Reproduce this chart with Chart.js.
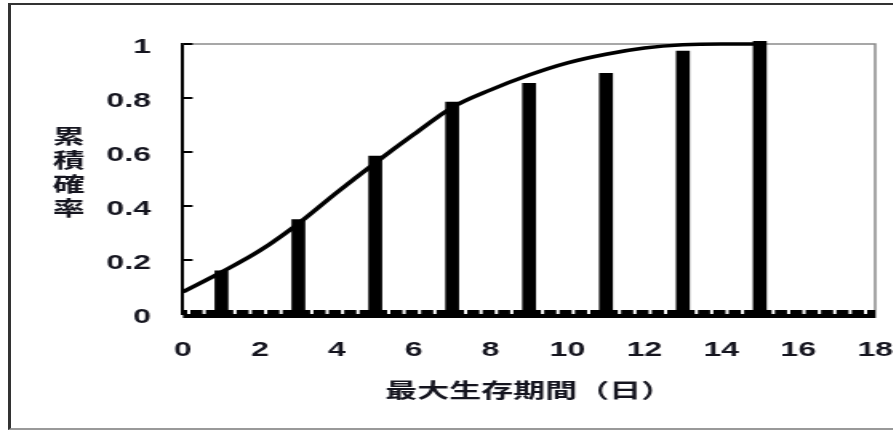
<!DOCTYPE html>
<html><head><meta charset="utf-8">
<script src="https://cdn.jsdelivr.net/npm/chart.js@4"></script>
<style>
html,body{margin:0;padding:0;background:#fff;width:893px;height:430px;overflow:hidden;}
#c{position:absolute;left:0;top:0;transform:scaleX(1.6);transform-origin:0 0;}
#frame{position:absolute;left:8px;top:3px;width:900px;height:423px;border-top:2px solid #333;border-left:3px solid #333;border-bottom:2px solid #999;pointer-events:none;}
</style></head><body>
<canvas id="c" width="558" height="430"></canvas>
<div id="frame"></div>
<script>
const barDays = [1, 3, 5, 7, 9, 11, 13, 15];
const barProb = [0.16, 0.35, 0.585, 0.785, 0.854, 0.891, 0.974, 1.01];
const curveDays = [0, 1, 2, 3, 4, 5, 6, 7, 8, 9, 10, 11, 12, 13, 14, 15];
const curveProb = [0.082, 0.155, 0.235, 0.335, 0.45, 0.56, 0.665, 0.765, 0.83, 0.885, 0.93, 0.962, 0.985, 0.997, 1.0, 1.0];
const xTickValues = [0, 2, 4, 6, 8, 10, 12, 14, 16, 18];
const yTickValues = [0, 0.2, 0.4, 0.6, 0.8, 1];
const xTitle = '最大生存期間（日）';
const yTitle = '累積確率';

const TEXT = '#15151f';
const tickFont = {family: '"Liberation Sans", Arial, sans-serif', size: 20, weight: 'bold'};
const cjkFont = '"Noto Sans CJK JP", "Noto Sans", sans-serif';

const decor = {
  id: 'decor',
  beforeDatasetsDraw(chart) {
    const {ctx, chartArea: ca, scales: {x, y}} = chart;
    ctx.save();
    ctx.strokeStyle = '#8a8a8a';
    ctx.lineWidth = 1.5;
    ctx.beginPath();
    ctx.moveTo(ca.left, ca.top);
    ctx.lineTo(ca.right, ca.top);
    ctx.lineTo(ca.right, ca.bottom + 4);
    ctx.stroke();
    const y0 = y.getPixelForValue(0);
    ctx.fillStyle = '#000';
    ctx.fillRect(ca.left, y0 - 4, ca.right - ca.left, 8);
    ctx.fillStyle = '#fff';
    for (let v = 0.15; v < x.max; v += 0.4) {
      const px = x.getPixelForValue(v);
      ctx.fillRect(px - 1, y0 - 4, 2, 4);
    }
    ctx.strokeStyle = '#000';
    ctx.lineWidth = 2;
    yTickValues.forEach(v => {
      if (v === 0) return;
      const py = y.getPixelForValue(v);
      ctx.beginPath();
      ctx.moveTo(ca.left, py);
      ctx.lineTo(ca.left + 6, py);
      ctx.stroke();
    });
    ctx.restore();
  },
  afterDraw(chart) {
    const {ctx, chartArea: ca} = chart;
    ctx.save();
    ctx.font = 'bold 20px ' + cjkFont;
    ctx.fillStyle = TEXT;
    ctx.textAlign = 'center';
    ctx.textBaseline = 'middle';
    const chars = [...yTitle];
    const step = 24;
    const cy = (ca.top + ca.bottom) / 2 - 7;
    chars.forEach((ch, i) => ctx.fillText(ch, 43, cy + (i - (chars.length - 1) / 2) * step));
    ctx.restore();
  }
};

new Chart(document.getElementById('c'), {
  type: 'bar',
  data: {
    datasets: [
      {
        type: 'line',
        data: curveDays.map((d, i) => ({x: d, y: curveProb[i]})),
        borderColor: '#000',
        borderWidth: 3.5,
        pointRadius: 0,
        cubicInterpolationMode: 'monotone',
        fill: false,
        clip: false,
        order: 0
      },
      {
        type: 'bar',
        data: barDays.map((d, i) => ({x: d, y: barProb[i]})),
        backgroundColor: '#000',
        borderWidth: 0,
        barThickness: 8,
        clip: false,
        order: 1
      }
    ]
  },
  options: {
    responsive: false,
    devicePixelRatio: 1,
    animation: false,
    layout: {padding: {left: 0, top: 44, right: 11, bottom: 0}},
    plugins: {legend: {display: false}, tooltip: {enabled: false}},
    scales: {
      x: {
        type: 'linear',
        min: 0, max: 18,
        offset: false,
        afterBuildTicks(s) { s.ticks = xTickValues.map(v => ({value: v})); },
        afterFit(s) { s.height = 116; s.paddingLeft = 0; s.paddingRight = 0; },
        grid: {display: false, drawTicks: false},
        border: {display: false},
        ticks: {color: TEXT, font: tickFont, padding: 24, maxRotation: 0, autoSkip: false},
        title: {display: true, text: xTitle, color: TEXT, font: {family: cjkFont, size: 20, weight: 'bold'}, padding: {top: 0, bottom: 28}}
      },
      y: {
        min: 0, max: 1,
        afterBuildTicks(s) { s.ticks = yTickValues.map(v => ({value: v})); },
        afterFit(s) { s.width = 114.4; s.paddingTop = 0; s.paddingBottom = 0; },
        grid: {display: false, drawTicks: false},
        border: {display: true, color: '#000', width: 2},
        ticks: {color: TEXT, font: tickFont, padding: 20, labelOffset: 3, callback: v => String(v)}
      }
    }
  },
  plugins: [decor]
});
</script>
</body></html>
